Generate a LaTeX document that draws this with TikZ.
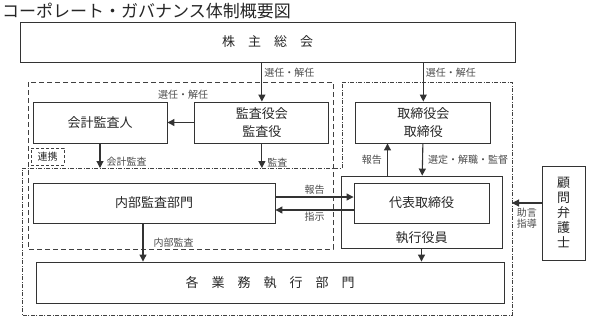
\documentclass[tikz,border=0pt]{standalone}
\usepackage{fontspec}
\setmainfont{Noto Sans CJK JP}
\usepackage{tikz}
\usetikzlibrary{arrows.meta, positioning}
\tikzstyle{box} = [rectangle, draw=black!80, line width=0.9pt, minimum height=41pt, align=center, inner sep=1pt, text=black!85, font=\fontsize{13}{18}\selectfont]
\tikzstyle{lbl} = [font=\fontsize{10}{11}\selectfont, text=black!70, inner sep=2pt]
\tikzstyle{arrow} = [line width=1.1pt, draw=black!80, -{Triangle[length=7pt, width=7pt]}]
\tikzstyle{auditgrp} = [draw=black!75, line width=0.9pt, dash pattern=on 5pt off 3pt]
\tikzstyle{execgrp} = [draw=black!75, line width=0.9pt, dash pattern=on 4pt off 1.5pt on 1pt off 1.5pt]

\begin{document}
\begin{tikzpicture}[x=1pt, y=-1pt]
  \useasboundingbox (0,0) rectangle (589,322);
  \node[anchor=west, inner sep=0pt, text=black!85, font=\fontsize{17}{20}\selectfont] (title) at (2,11) {コーポレート・ガバナンス体制概要図};

  % groups
  \draw[auditgrp] (28,82) rectangle (333,249);
  \draw[execgrp] (342,82) -- (512,82) -- (512,315) -- (22,315) -- (22,168) -- (342,168) -- cycle;
  \coordinate (ddtop) at (0,168);
  \coordinate (ddright) at (512,0);

  \node[box, minimum width=495pt, minimum height=40pt] (soukai) at (267.5,42) {株　主　総　会};
  \node[box, minimum width=134pt] (kaikei) at (100,122.5) {会計監査人};
  \node[box, minimum width=134pt, right=27pt of kaikei] (kansa) {監査役会\\監査役};
  \node[box, minimum width=135pt, right=26pt of kansa] (torishimari) {取締役会\\取締役};
  \node[box, draw=black!75, dash pattern=on 3pt off 2pt, minimum width=33pt, minimum height=17pt, font=\fontsize{10}{11}\selectfont] (renkei) at (47.5,156.5) {連携};

  \node[box, minimum width=242pt, minimum height=40pt] (naibu) at (154,203) {内部監査部門};
  \node[box, minimum width=161pt, minimum height=72pt] (shikkou) at (421.5,212) {};
  \node[box, minimum width=135pt, minimum height=40pt] (daihyo) at (421.5,203) {代表取締役};
  \node[text=black!85, font=\fontsize{13}{15}\selectfont, inner sep=0pt] (yakuin) at (421.5,238) {執行役員};
  \node[box, minimum width=468pt] (gyomu) at (270,282.5) {各　業　務　執　行　部　門};
  \node[box, minimum width=43pt, minimum height=94pt, font=\fontsize{13}{15}\selectfont] (komon) at (563.5,213) {顧\\問\\弁\\護\\士};

  \draw[arrow] (soukai.south -| kansa) -- node[lbl, right, pos=0.27]{選任・解任} (kansa);
  \draw[arrow] (soukai.south -| torishimari) -- node[lbl, right, pos=0.27]{選任・解任} (torishimari);
  \draw[arrow] (kansa) -- (kaikei);
  \node[lbl] (lsennin) at (183,95) {選任・解任};
  \draw[arrow] (kaikei) -- node[lbl, right=4pt, pos=0.76]{会計監査} (kaikei |- ddtop);
  \draw[arrow] (kansa) -- node[lbl, right=3pt, pos=0.76]{監査} (kansa |- ddtop);
  \draw[arrow] ([xshift=-11pt]naibu.south) -- node[lbl, right=8pt]{内部監査} ([xshift=-11pt]naibu.south |- gyomu.north);
  \draw[arrow] (shikkou) -- (shikkou |- gyomu.north);
  \draw[arrow] ([yshift=6pt]naibu.east) -- node[lbl, above]{報告} ([yshift=6pt]naibu.east -| daihyo.west);
  \draw[arrow] ([yshift=-7pt]daihyo.west) -- node[lbl, below]{指示} ([yshift=-7pt]daihyo.west -| naibu.east);
  \draw[arrow] ([xshift=-34pt]shikkou.north) -- node[lbl, left=3pt]{報告} ([xshift=-34pt]shikkou.north |- torishimari.south);
  \draw[arrow] (torishimari) -- node[lbl, right=3pt]{選定・解職・監督} (shikkou);
  \draw[arrow] ([yshift=10pt]komon.west) -- node[lbl, below=3pt, align=center]{助言\\指導} ([yshift=10pt]komon.west -| ddright);
\end{tikzpicture}
\end{document}
